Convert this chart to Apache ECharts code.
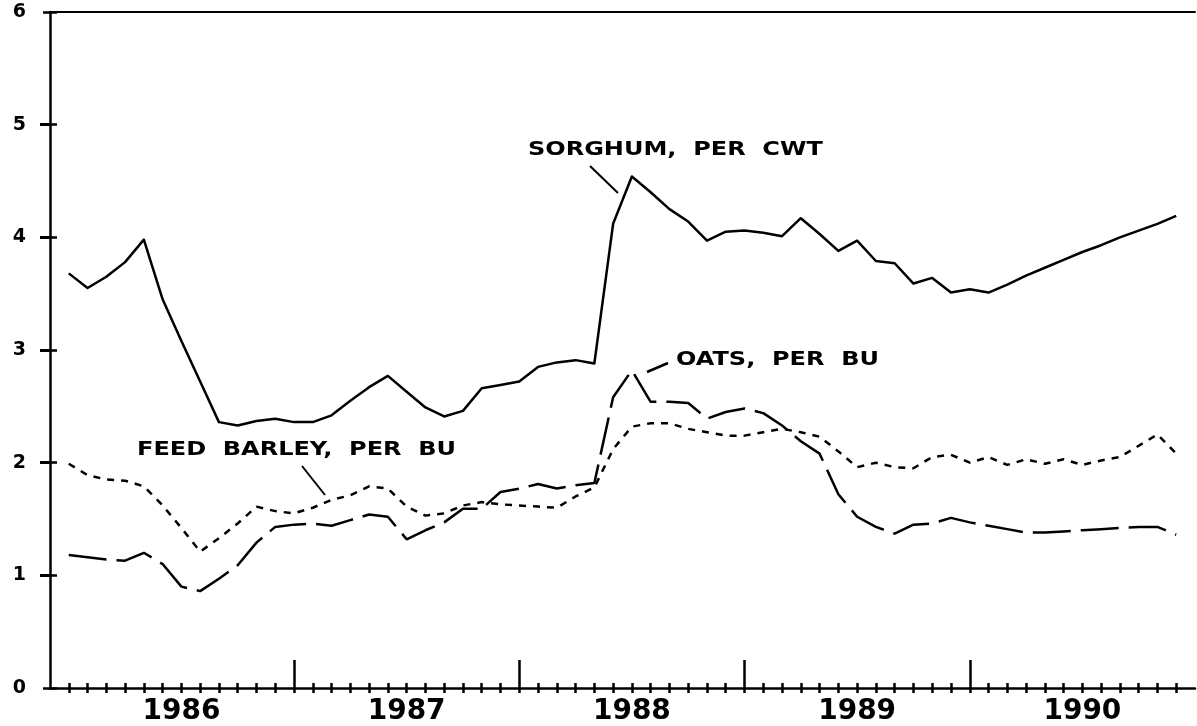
<!DOCTYPE html>
<html>
<head>
<meta charset="utf-8">
<script src="https://cdn.jsdelivr.net/npm/echarts@6/dist/echarts.min.js"></script>
<style>
html,body{margin:0;padding:0;background:#fff;}
#chart{width:1197px;height:726px;}
</style>
</head>
<body>
<div id="chart"></div>
<script>
// Year labels (each year spans 12 monthly steps)
const years = ['1986', '1987', '1988', '1989', '1990'];
// y-axis tick labels
const yTicks = [0, 1, 2, 3, 4, 5, 6];

// Monthly prices, dollars (60 months)
const sorghum = [3.68, 3.55, 3.65, 3.78, 3.98, 3.45, 3.08, 2.72, 2.36, 2.33, 2.37, 2.39,
  2.36, 2.36, 2.42, 2.55, 2.67, 2.77, 2.63, 2.49, 2.41, 2.46, 2.66, 2.69,
  2.72, 2.85, 2.89, 2.91, 2.88, 4.12, 4.54, 4.40, 4.25, 4.14, 3.97, 4.05,
  4.06, 4.04, 4.01, 4.17, 4.03, 3.88, 3.97, 3.79, 3.77, 3.59, 3.64, 3.51,
  3.54, 3.51, 3.58, 3.66, 3.73, 3.80, 3.87, 3.93, 4.00, 4.06, 4.12, 4.19];
const oats = [1.18, 1.16, 1.14, 1.13, 1.20, 1.10, 0.90, 0.86, 0.97, 1.09, 1.29, 1.43,
  1.45, 1.46, 1.44, 1.49, 1.54, 1.52, 1.32, 1.40, 1.47, 1.59, 1.59, 1.74,
  1.77, 1.81, 1.77, 1.80, 1.82, 2.58, 2.82, 2.54, 2.54, 2.53, 2.39, 2.45,
  2.48, 2.44, 2.33, 2.19, 2.08, 1.72, 1.52, 1.43, 1.37, 1.45, 1.46, 1.51,
  1.47, 1.44, 1.41, 1.38, 1.38, 1.39, 1.40, 1.41, 1.42, 1.43, 1.43, 1.36];
const barley = [1.99, 1.89, 1.85, 1.84, 1.79, 1.62, 1.42, 1.21, 1.33, 1.46, 1.61, 1.57,
  1.55, 1.60, 1.67, 1.71, 1.79, 1.77, 1.61, 1.53, 1.55, 1.62, 1.65, 1.63,
  1.62, 1.61, 1.60, 1.70, 1.78, 2.12, 2.32, 2.35, 2.35, 2.30, 2.27, 2.24,
  2.24, 2.27, 2.30, 2.27, 2.23, 2.10, 1.96, 2.00, 1.96, 1.95, 2.05, 2.07,
  2.00, 2.05, 1.98, 2.03, 1.99, 2.03, 1.98, 2.02, 2.05, 2.15, 2.25, 2.08];

const nMonths = sorghum.length;
const xMax = nMonths + 1;
const toPts = arr => arr.map((v, i) => [i + 1, v]);

const monthTicks = [];
for (let m = 1; m <= nMonths; m++) monthTicks.push(m);
const majorTicks = [];
for (let i = 1; i < years.length; i++) majorTicks.push(1 + 12 * i);
const yearPos = years.map((y, i) => 1 + 12 * i + 6);

const BLACK = '#000';
const FONT = '"DejaVu Sans", sans-serif';

const baseX = {
  type: 'value', min: 0, max: xMax, position: 'bottom',
  splitLine: {show: false}, axisLabel: {show: false},
  axisLine: {show: false}, axisTick: {show: false}
};

function label(text, x, y) {
  return {type: 'text', x: x, y: y, scaleX: 1.2, scaleY: 1,
    style: {text: text, x: 0, y: 0, fill: BLACK, font: 'bold 20px ' + FONT,
      align: 'left', verticalAlign: 'top'}};
}

const chart = echarts.init(document.getElementById('chart'), null, {renderer: 'canvas'});
chart.setOption({
  animation: false,
  backgroundColor: '#fff',
  grid: {left: 50, right: 2, top: 12, bottom: 36, containLabel: false},
  xAxis: [
    Object.assign({}, baseX, {
      axisLine: {show: true, onZero: false, lineStyle: {color: BLACK, width: 2.5}},
      axisTick: {show: true, inside: false, length: 5, customValues: monthTicks,
        lineStyle: {color: BLACK, width: 2.5}},
      axisLabel: {show: true, customValues: yearPos, margin: 10,
        formatter: v => years[Math.round((v - 7) / 12)] || '',
        color: BLACK, fontFamily: FONT, fontWeight: 'bold', fontSize: 28}
    }),
    Object.assign({}, baseX, {
      axisTick: {show: true, inside: true, length: 5, customValues: monthTicks,
        lineStyle: {color: BLACK, width: 2.5}}
    }),
    Object.assign({}, baseX, {
      axisTick: {show: true, inside: true, length: 28, customValues: majorTicks,
        lineStyle: {color: BLACK, width: 2.5}}
    }),
    Object.assign({}, baseX, {
      position: 'top',
      axisLine: {show: true, onZero: false, lineStyle: {color: BLACK, width: 2}}
    })
  ],
  yAxis: [
    {
      type: 'value', min: yTicks[0], max: yTicks[yTicks.length - 1], interval: 1,
      position: 'left', splitLine: {show: false},
      axisLine: {show: true, onZero: false, lineStyle: {color: BLACK, width: 2.5}},
      axisTick: {show: true, inside: false, length: 7, lineStyle: {color: BLACK, width: 2.5}},
      axisLabel: {show: true, margin: 24, color: BLACK, fontFamily: FONT,
        fontWeight: 'bold', fontSize: 19}
    },
    {
      type: 'value', min: yTicks[0], max: yTicks[yTicks.length - 1], interval: 1,
      position: 'left', splitLine: {show: false},
      axisLine: {show: false},
      axisTick: {show: true, inside: true, length: 7, lineStyle: {color: BLACK, width: 2.5}},
      axisLabel: {show: false}
    },
    {
      type: 'value', min: yTicks[0], max: yTicks[yTicks.length - 1],
      position: 'right', splitLine: {show: false},
      axisLine: {show: false},
      axisTick: {show: true, inside: true, length: 10, customValues: yTicks.slice(1, -1),
        lineStyle: {color: BLACK, width: 3}},
      axisLabel: {show: false}
    }
  ],
  series: [
    {
      name: 'SORGHUM, PER CWT', type: 'line', xAxisIndex: 0, yAxisIndex: 0,
      data: toPts(sorghum), showSymbol: false, symbol: 'none',
      lineStyle: {color: BLACK, width: 2.5, type: 'solid', join: 'round'}
    },
    {
      name: 'OATS, PER BU', type: 'line', xAxisIndex: 0, yAxisIndex: 0,
      data: toPts(oats), showSymbol: false, symbol: 'none',
      lineStyle: {color: BLACK, width: 2.5, type: [38, 10]}
    },
    {
      name: 'FEED BARLEY, PER BU', type: 'line', xAxisIndex: 0, yAxisIndex: 0,
      data: toPts(barley), showSymbol: false, symbol: 'none',
      lineStyle: {color: BLACK, width: 2.5, type: [7, 7]}
    }
  ],
  graphic: [
    label('SORGHUM,  PER  CWT', 528, 140),
    {type: 'line', shape: {x1: 590, y1: 166, x2: 618, y2: 193},
      style: {stroke: BLACK, lineWidth: 2}},
    label('OATS,  PER  BU', 676, 350),
    {type: 'line', shape: {x1: 647, y1: 372, x2: 668, y2: 363},
      style: {stroke: BLACK, lineWidth: 2.5}},
    label('FEED  BARLEY,  PER  BU', 137, 440),
    {type: 'line', shape: {x1: 302, y1: 466, x2: 325, y2: 495},
      style: {stroke: BLACK, lineWidth: 2}}
  ]
});
</script>
</body>
</html>
